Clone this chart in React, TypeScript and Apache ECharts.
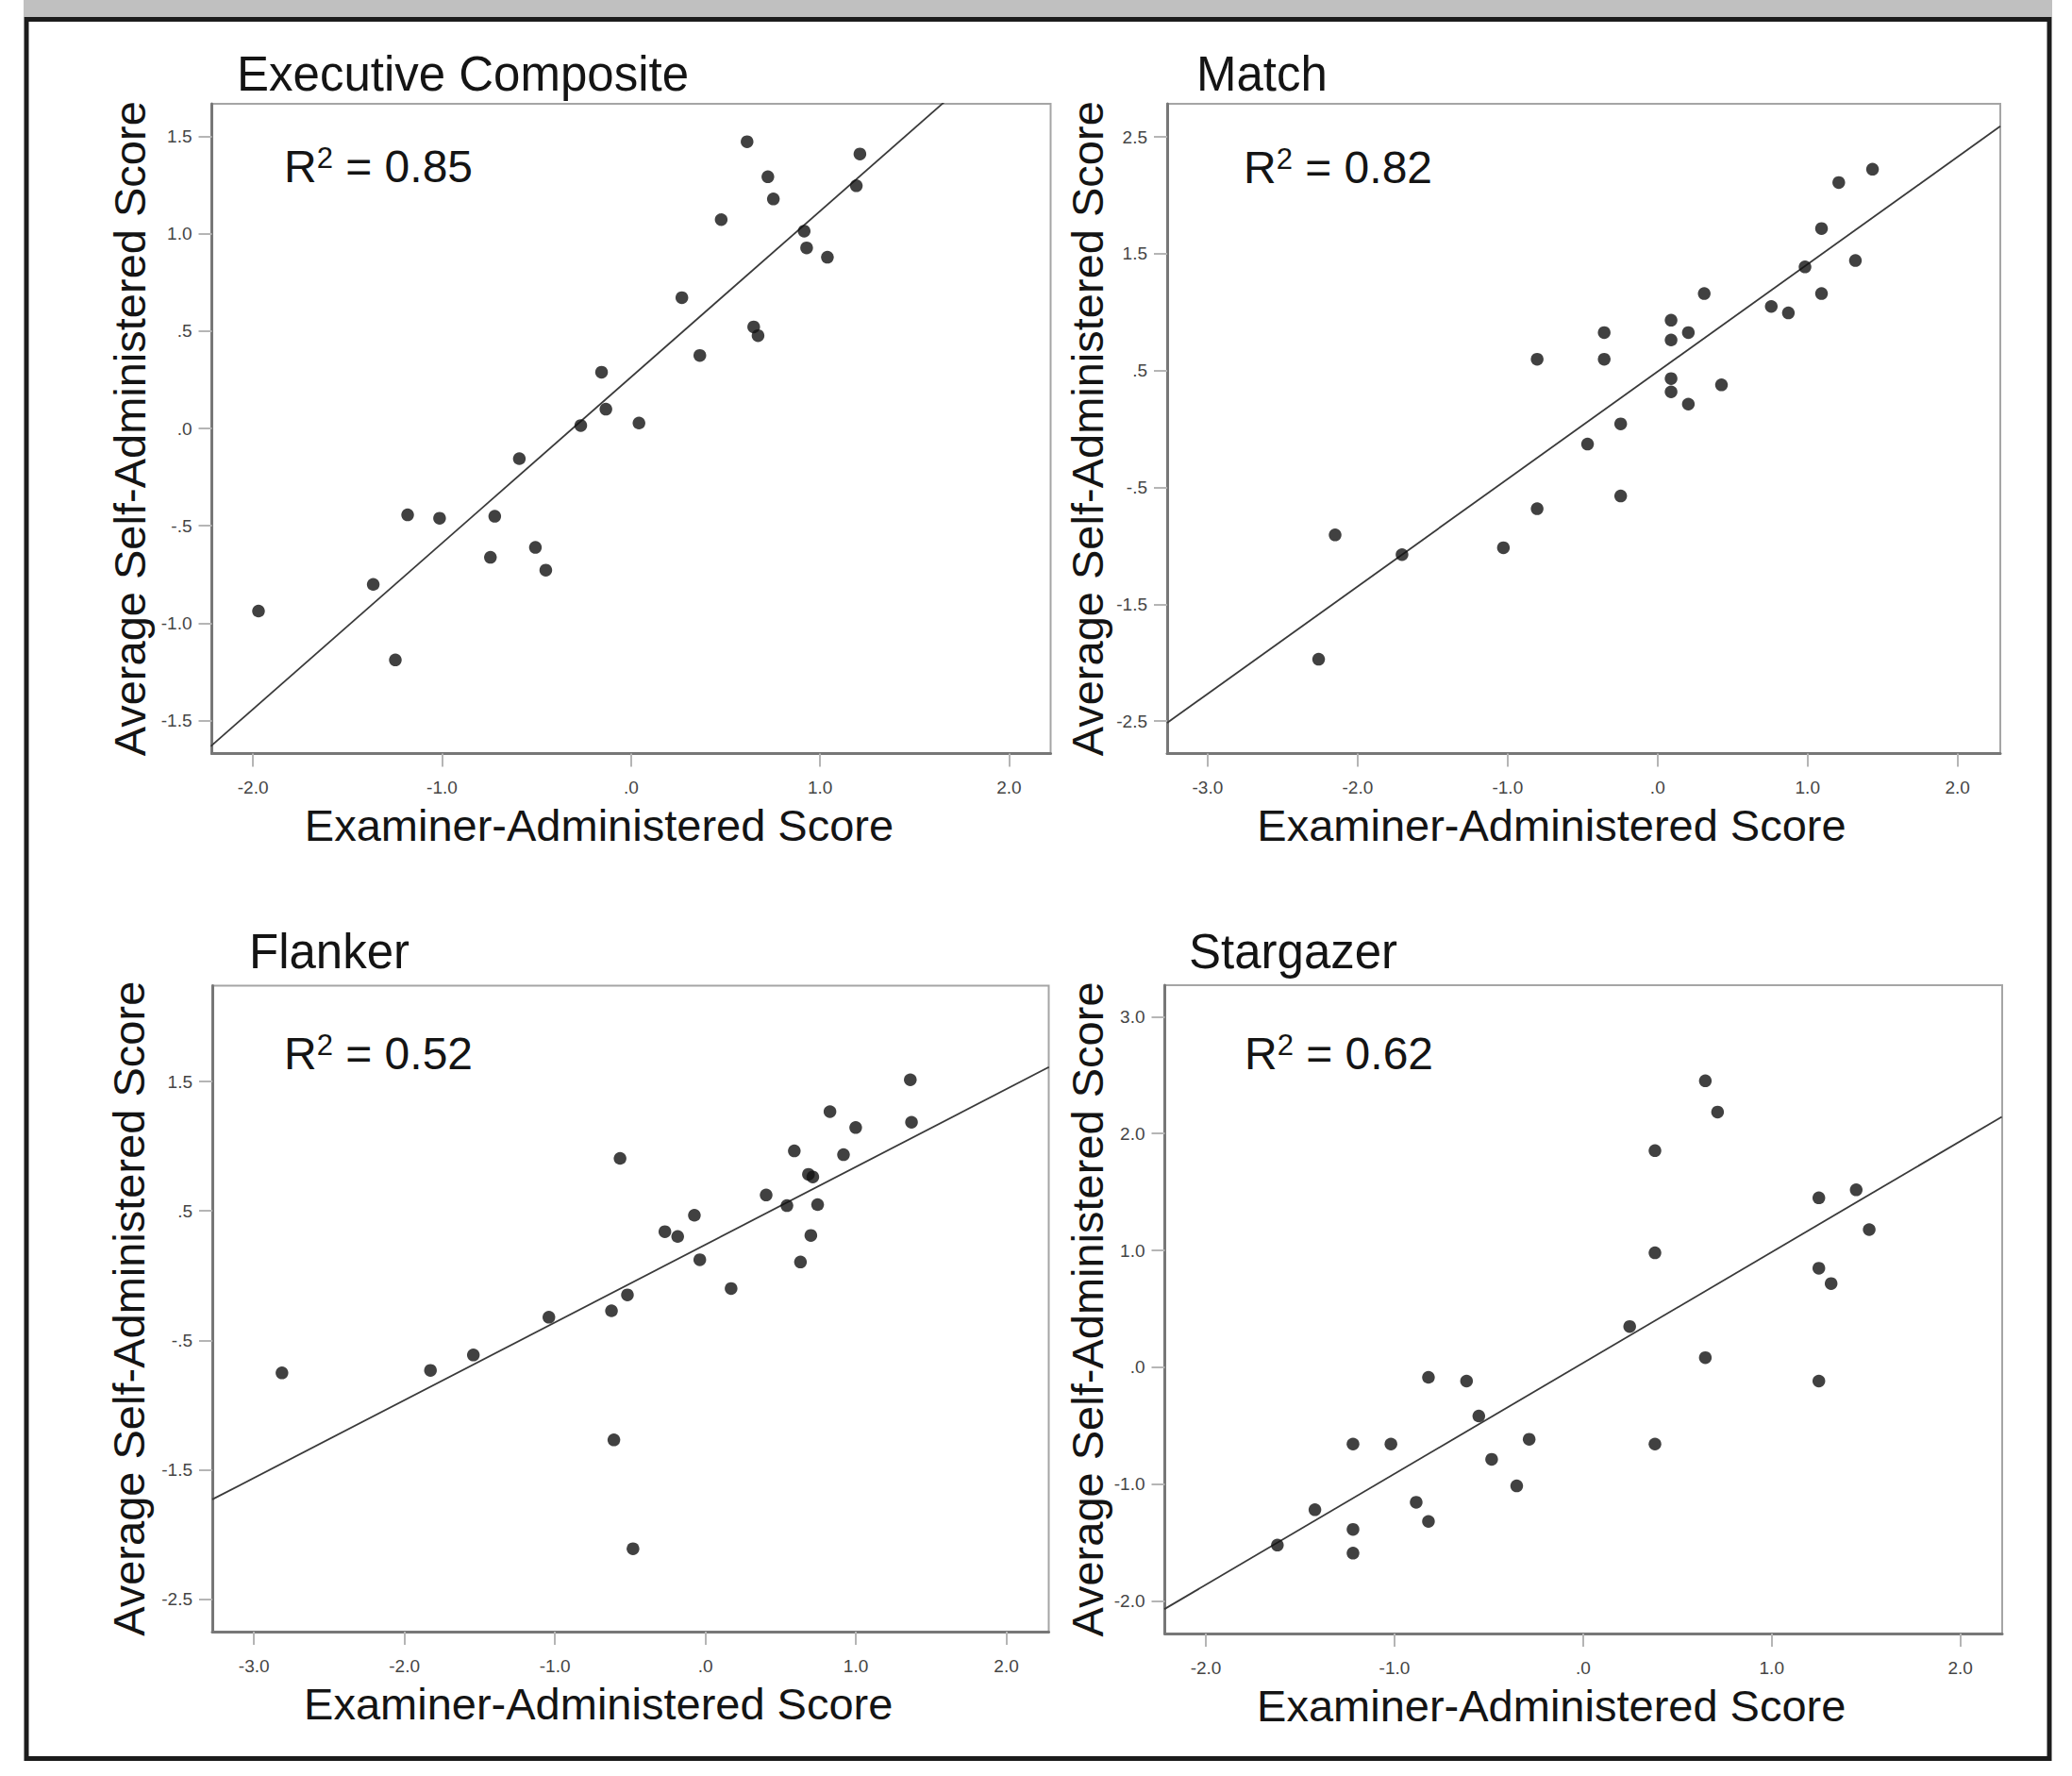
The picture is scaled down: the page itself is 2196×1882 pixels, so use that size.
import React, { useEffect, useRef } from 'react';
import * as echarts from 'echarts';

// ---------- text ----------
const panelTitles = ['Executive Composite', 'Match', 'Flanker', 'Stargazer'];
const r2Values = ['0.85', '0.82', '0.52', '0.62'];
const xAxisTitle = 'Examiner-Administered Score';
const yAxisTitle = 'Average Self-Administered Score';

// ---------- data (examiner score, average self score) ----------
const execPoints = [
  [-1.971, -0.938], [-1.364, -0.801], [-1.247, -1.189], [-1.182, -0.444], [-1.013, -0.461],
  [-0.744, -0.662], [-0.721, -0.451], [-0.591, -0.155], [-0.506, -0.611], [-0.451, -0.728],
  [-0.266, 0.015], [-0.156, 0.289], [-0.133, 0.099], [0.042, 0.028], [0.269, 0.672],
  [0.364, 0.375], [0.477, 1.073], [0.614, 1.473], [0.649, 0.522], [0.672, 0.477],
  [0.724, 1.293], [0.753, 1.179], [0.916, 1.014], [0.929, 0.928], [1.039, 0.88],
  [1.192, 1.247], [1.211, 1.41],
];
const matchPoints = [
  [-2.26, -1.97], [-2.15, -0.906], [-1.704, -1.075], [-1.028, -1.016], [-0.803, 0.597],
  [-0.803, -0.682], [-0.467, -0.129], [-0.356, 0.825], [-0.356, 0.597], [-0.246, 0.044],
  [-0.246, -0.573], [0.09, 0.931], [0.09, 0.762], [0.09, 0.432], [0.09, 0.318],
  [0.205, 0.825], [0.205, 0.213], [0.311, 1.159], [0.426, 0.378], [0.758, 1.049],
  [0.872, 0.994], [0.983, 1.387], [1.093, 1.716], [1.093, 1.159], [1.208, 2.109],
  [1.319, 1.442], [1.433, 2.223],
];
const flankerPoints = [
  [-2.814, -0.751], [-1.827, -0.731], [-1.542, -0.612], [-1.04, -0.321], [-0.624, -0.271],
  [-0.608, -1.268], [-0.567, 0.906], [-0.518, -0.148], [-0.481, -2.109], [-0.269, 0.34],
  [-0.184, 0.303], [-0.073, 0.467], [-0.037, 0.123], [0.171, -0.099], [0.404, 0.623],
  [0.542, 0.541], [0.591, 0.964], [0.632, 0.106], [0.685, 0.783], [0.714, 0.763],
  [0.701, 0.311], [0.746, 0.549], [0.828, 1.267], [0.918, 0.935], [0.999, 1.144],
  [1.362, 1.513], [1.37, 1.185],
];
const stargazerPoints = [
  [-1.621, -1.522], [-1.422, -1.219], [-1.22, -0.657], [-1.22, -1.387], [-1.22, -1.59],
  [-1.019, -0.657], [-0.885, -1.155], [-0.82, -0.086], [-0.82, -1.319], [-0.618, -0.118],
  [-0.553, -0.417], [-0.485, -0.788], [-0.352, -1.015], [-0.286, -0.616], [0.247, 0.349],
  [0.381, 1.853], [0.381, 0.979], [0.381, -0.657], [0.648, 2.451], [0.648, 0.082],
  [0.713, 2.184], [1.25, 1.45], [1.25, 0.847], [1.25, -0.118], [1.315, 0.716],
  [1.448, 1.518], [1.517, 1.178],
];

// fit line end points
const execFit = [[-2.224, -1.633], [1.656, 1.676]];
const matchFit = [[-3.27, -2.514], [2.285, 2.591]];
const flankerFit = [[-3.277, -1.728], [2.283, 1.611]];
const stargazerFit = [[-2.22, -2.069], [2.22, 2.143]];

// axis ranges and ticks
const xRanges = [[-2.218, 2.22], [-3.27, 2.285], [-3.277, 2.282], [-2.218, 2.222]];
const yRanges = [[-1.67, 1.668], [-2.777, 2.783], [-2.749, 2.24], [-2.278, 3.269]];
const xTicks1 = [-2, -1, 0, 1, 2];
const yTicks1 = [-1.5, -1, -0.5, 0, 0.5, 1, 1.5];
const xTicks2 = [-3, -2, -1, 0, 1, 2];
const yTicks2 = [-2.5, -1.5, -0.5, 0.5, 1.5, 2.5];
const xTicks3 = [-3, -2, -1, 0, 1, 2];
const yTicks3 = [-2.5, -1.5, -0.5, 0.5, 1.5];
const xTicks4 = [-2, -1, 0, 1, 2];
const yTicks4 = [-2, -1, 0, 1, 2, 3];

const pointsList = [execPoints, matchPoints, flankerPoints, stargazerPoints];
const fitList = [execFit, matchFit, flankerFit, stargazerFit];
const xTickList = [xTicks1, xTicks2, xTicks3, xTicks4];
const yTickList = [yTicks1, yTicks2, yTicks3, yTicks4];

// ---------- layout (pixels) ----------
const layout = [
  { left: 224.5, top: 110, width: 889, height: 688.5, titleX: 251, titleBase: 96, r2X: 301, r2Base: 193, yTitleX: 137 },
  { left: 1237, top: 110, width: 883, height: 688.5, titleX: 1268, titleBase: 96, r2X: 1318, r2Base: 194, yTitleX: 1152.5 },
  { left: 225, top: 1044.5, width: 886.5, height: 684.5, titleX: 264, titleBase: 1026, r2X: 301, r2Base: 1133, yTitleX: 136 },
  { left: 1234.5, top: 1044, width: 887.5, height: 687, titleX: 1260, titleBase: 1026, r2X: 1319, r2Base: 1133, yTitleX: 1152.5 },
];

const FONT = 'Arial, "Liberation Sans", Helvetica, sans-serif';
const CENTRAL = 0.3465;

const fmt = (v: number) => {
  const a = Math.abs(v).toFixed(1).replace(/^0/, '');
  return (v < -1e-9 ? '-' : '') + a;
};

export default function App() {
  const ref = useRef<HTMLDivElement>(null);

  useEffect(() => {
    document.body.style.margin = '0';
    if (!ref.current) return;
    const chart = echarts.init(ref.current, undefined, { renderer: 'svg' });

    const grids = layout.map((l) => ({
      left: l.left,
      top: l.top,
      width: l.width,
      height: l.height,
      show: true,
      borderColor: '#a5a5a5',
      borderWidth: 2,
      backgroundColor: 'transparent',
      containLabel: false,
    }));

    const axisCommon = (ticks: number[], margin: number) => ({
      type: 'value' as const,
      axisLine: { show: true, onZero: false, lineStyle: { color: '#777777', width: 3 } },
      axisTick: { show: true, length: 14, customValues: ticks, lineStyle: { color: '#b5b5b5', width: 2 } },
      axisLabel: {
        customValues: ticks,
        formatter: fmt,
        margin,
        fontSize: 19,
        color: '#454545',
        fontFamily: FONT,
      },
      splitLine: { show: false },
    });

    const xAxes = layout.map((_, i) => ({
      ...axisCommon(xTickList[i], 26.5),
      gridIndex: i,
      min: xRanges[i][0],
      max: xRanges[i][1],
    }));
    const yAxes = layout.map((_, i) => ({
      ...axisCommon(yTickList[i], 21),
      gridIndex: i,
      min: yRanges[i][0],
      max: yRanges[i][1],
    }));

    const series: any[] = [];
    layout.forEach((_, i) => {
      series.push({
        type: 'line',
        xAxisIndex: i,
        yAxisIndex: i,
        data: fitList[i],
        showSymbol: false,
        symbol: 'none',
        clip: true,
        lineStyle: { color: '#3a3a3a', width: 1.8 },
        z: 2,
      });
      series.push({
        type: 'scatter',
        xAxisIndex: i,
        yAxisIndex: i,
        data: pointsList[i],
        symbol: 'circle',
        symbolSize: 13.5,
        itemStyle: { color: '#111111' },
        z: 3,
      });
    });

    const graphics: any[] = [
      { type: 'rect', shape: { x: 25, y: 0, width: 2150, height: 18 }, style: { fill: '#c0c0c0' }, z: 0 },
      {
        type: 'rect',
        shape: { x: 28, y: 20.5, width: 2144, height: 1843 },
        style: { fill: 'none', stroke: '#1c1c1c', lineWidth: 5 },
        z: 10,
      },
    ];

    layout.forEach((l, i) => {
      // panel title
      graphics.push({
        type: 'text',
        x: l.titleX,
        y: l.titleBase - CENTRAL * 51,
        style: {
          text: panelTitles[i],
          fontSize: 51,
          fontFamily: FONT,
          fill: '#141414',
          align: 'left',
          verticalAlign: 'middle',
        },
      });
      // R squared
      graphics.push({
        type: 'text',
        x: l.r2X,
        y: l.r2Base - 40.6,
        style: {
          text: '{b|R}{s|2}{b| = ' + r2Values[i] + '}',
          align: 'left',
          verticalAlign: 'top',
          rich: {
            b: { fontSize: 48, lineHeight: 48, fontFamily: FONT, fill: '#141414' },
            s: { fontSize: 31, lineHeight: 8, fontFamily: FONT, fill: '#141414', verticalAlign: 'top' },
          },
        },
      });
      // x-axis title
      graphics.push({
        type: 'text',
        x: l.left + l.width / 2 - 34,
        y: l.top + l.height + 92.5 - CENTRAL * 47,
        style: {
          text: xAxisTitle,
          fontSize: 47,
          fontFamily: FONT,
          fill: '#141414',
          align: 'center',
          verticalAlign: 'middle',
        },
      });
      // y-axis title
      graphics.push({
        type: 'text',
        x: l.yTitleX,
        y: l.top + l.height / 2,
        rotation: Math.PI / 2,
        style: {
          text: yAxisTitle,
          fontSize: 47,
          fontFamily: FONT,
          fill: '#141414',
          align: 'center',
          verticalAlign: 'middle',
        },
      });
    });

    chart.setOption({
      animation: false,
      backgroundColor: '#ffffff',
      grid: grids,
      xAxis: xAxes,
      yAxis: yAxes,
      series,
      graphic: { elements: graphics },
    });

    return () => {
      chart.dispose();
    };
  }, []);

  return <div ref={ref} style={{ width: 2196, height: 1882 }} />;
}
